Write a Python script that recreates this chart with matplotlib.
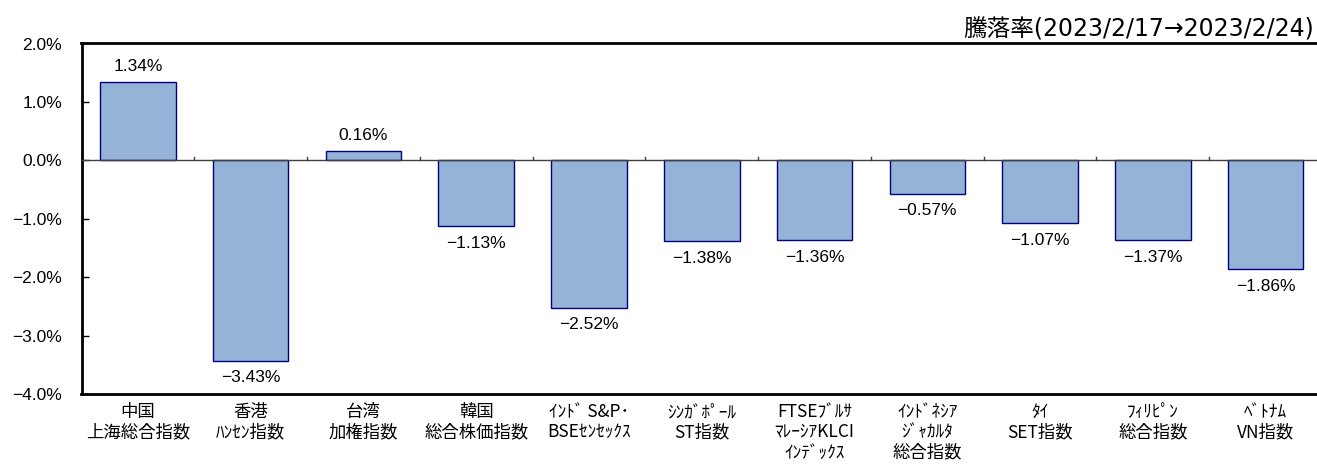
import matplotlib
matplotlib.use("Agg")
import matplotlib.pyplot as plt
import numpy as np

categories = [
    "中国\n上海総合指数",
    "香港\nﾊﾝｾﾝ指数",
    "台湾\n加権指数",
    "韓国\n総合株価指数",
    "ｲﾝﾄﾞ S&P･\nBSEｾﾝｾｯｸｽ",
    "ｼﾝｶﾞﾎﾟｰﾙ\nST指数",
    "FTSEﾌﾞﾙｻ\nﾏﾚｰｼｱKLCI\nｲﾝﾃﾞｯｸｽ",
    "ｲﾝﾄﾞﾈｼｱ\nｼﾞｬｶﾙﾀ\n総合指数",
    "ﾀｲ\nSET指数",
    "ﾌｨﾘﾋﾟﾝ\n総合指数",
    "ﾍﾞﾄﾅﾑ\nVN指数",
]
values = [1.34, -3.43, 0.16, -1.13, -2.52, -1.38, -1.36, -0.57, -1.07, -1.37, -1.86]
yticks = [2.0, 1.0, 0.0, -1.0, -2.0, -3.0, -4.0]
title = "騰落率(2023/2/17→2023/2/24)"

cjk = ["Noto Sans CJK JP", "DejaVu Sans"]
num = ["Liberation Sans", "DejaVu Sans"]
ttl = ["DejaVu Sans", "Noto Sans CJK JP"]

fig = plt.figure(figsize=(13.17, 4.73), dpi=100)
ax = fig.add_axes([81.5 / 1317, 1 - 394 / 473, (1322 - 81.5) / 1317, (394 - 43.5) / 473])

x = np.arange(len(values))
ax.bar(x, values, width=0.67, color="#95B3D7", edgecolor="#000080", linewidth=1.0, zorder=2)
ax.axhline(0, color="#404040", linewidth=1.0, zorder=3)

ax.set_xlim(-0.5, len(values) - 0.5)
ax.set_ylim(-4.0, 2.0)
ax.set_yticks(yticks)
ax.set_yticklabels([f"{v:.1f}%".replace("-", "\u2212") for v in yticks], fontfamily=num, fontsize=12.5)
ax.tick_params(axis="y", direction="in", length=5, width=1, pad=14)

ax.set_xticks([])
for b in np.arange(0.5, len(values) - 0.5, 1.0):
    ax.plot([b, b], [0, 0.06], color="#404040", linewidth=1.0, zorder=3)

for i, lab in enumerate(categories):
    ax.text(i, -4.16, lab, ha="center", va="top",
            fontfamily=cjk, fontsize=12.5, linespacing=1.15)

for i, v in enumerate(values):
    s = f"{v:.2f}%".replace("-", "\u2212")
    if v >= 0:
        ax.annotate(s, (i, v), xytext=(0, 6), textcoords="offset points",
                    ha="center", va="bottom", fontfamily=num, fontsize=12.5)
    else:
        ax.annotate(s, (i, v), xytext=(0, -7), textcoords="offset points",
                    ha="center", va="top", fontfamily=num, fontsize=12.5)

for sp in ["top", "left", "bottom"]:
    ax.spines[sp].set_linewidth(2.0)
    ax.spines[sp].set_color("black")
ax.spines["right"].set_visible(False)

fig.text(1314 / 1317, 1 - 36 / 473, title, ha="right", va="baseline", fontfamily=ttl, fontsize=17)

fig.savefig("out.png", dpi=100)
